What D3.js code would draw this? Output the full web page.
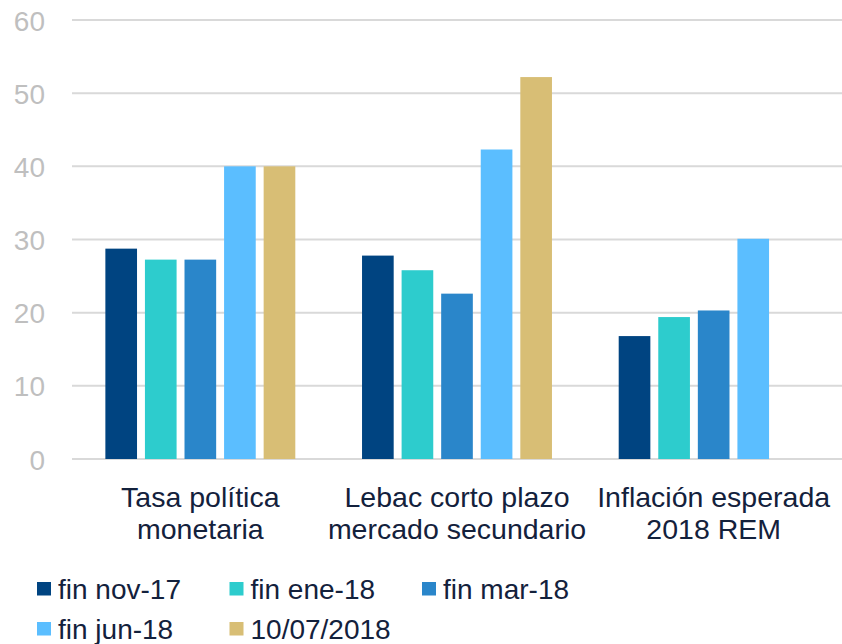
<!DOCTYPE html>
<html>
<head>
<meta charset="utf-8">
<script src="https://cdnjs.cloudflare.com/ajax/libs/d3/7.8.5/d3.min.js"></script>
<style>
  body { margin: 0; background: #fff; }
  text { font-family: "Liberation Sans", Arial, sans-serif; }
</style>
</head>
<body>
<div class="canva"></div>
<script>
const categories = [
  ["Tasa política", "monetaria"],
  ["Lebac corto plazo", "mercado secundario"],
  ["Inflación esperada", "2018 REM"]
];
const seriesNames = ["fin nov-17", "fin ene-18", "fin mar-18", "fin jun-18", "10/07/2018"];
const seriesColors = ["#004481", "#2dcccd", "#2a86ca", "#5bbeff", "#d8be75"];
// values per series, one per category (null = no data)
const finNov17 = [28.75, 27.8, 16.8];
const finEne18 = [27.25, 25.8, 19.4];
const finMar18 = [27.25, 22.6, 20.3];
const finJun18 = [40, 42.3, 30.1];
const jul2018 = [40, 52.2, null];
const yTicks = [0, 10, 20, 30, 40, 50, 60];

const seriesValues = [finNov17, finEne18, finMar18, finJun18, jul2018];

const width = 842, height = 644;
const plotLeft = 72, plotRight = 842, plotTop = 20, plotBottom = 459;

const svg = d3.select(".canva").append("svg")
    .attr("width", width)
    .attr("height", height);

const y = d3.scaleLinear().domain([0, 60]).range([plotBottom, plotTop]);

const x0 = d3.scaleBand()
    .domain(d3.range(categories.length))
    .range([plotLeft, plotRight])
    .paddingInner(0.26)
    .paddingOuter(0.13);

const x1 = d3.scaleBand()
    .domain(d3.range(seriesNames.length))
    .range([0, x0.bandwidth()])
    .paddingInner(0.2);

// gridlines
svg.append("g")
  .selectAll("line")
  .data(yTicks)
  .enter()
  .append("line")
    .attr("x1", plotLeft)
    .attr("x2", plotRight)
    .attr("y1", d => y(d))
    .attr("y2", d => y(d))
    .attr("stroke", "#d9d9d9")
    .attr("stroke-width", 2);

// y tick labels
svg.append("g")
  .selectAll("text")
  .data(yTicks)
  .enter()
  .append("text")
    .attr("x", 45)
    .attr("y", d => y(d) + 10.5)
    .attr("text-anchor", "end")
    .attr("font-size", 28)
    .attr("fill", "#bfbfbf")
    .text(d => d);

// bars
const groups = svg.append("g")
  .selectAll("g")
  .data(categories)
  .enter()
  .append("g")
    .attr("transform", (d, i) => `translate(${x0(i)},0)`);

groups.selectAll("rect")
  .data((d, i) => seriesValues.map((vals, s) => ({ s: s, v: vals[i] })).filter(e => e.v != null))
  .enter()
  .append("rect")
    .attr("x", d => x1(d.s))
    .attr("y", d => y(d.v))
    .attr("width", x1.bandwidth())
    .attr("height", d => y(0) - y(d.v))
    .attr("fill", d => seriesColors[d.s]);

// category labels
const catLabels = svg.append("g")
  .selectAll("text")
  .data(categories)
  .enter()
  .append("text")
    .attr("text-anchor", "middle")
    .attr("font-size", 28.5)
    .attr("fill", "#13213c");

catLabels.selectAll("tspan")
  .data((d, i) => d.map(line => ({ line: line, i: i })))
  .enter()
  .append("tspan")
    .attr("x", d => x0(d.i) + x0.bandwidth() / 2)
    .attr("y", (d, j) => 507 + j * 32)
    .text(d => d.line);

// legend
const legend = svg.append("g")
  .selectAll("g")
  .data(seriesNames)
  .enter()
  .append("g")
    .attr("transform", (d, i) => `translate(${37 + (i % 3) * 192.5},${582 + Math.floor(i / 3) * 40})`);

legend.append("rect")
    .attr("width", 14)
    .attr("height", 13.5)
    .attr("fill", (d, i) => seriesColors[i]);

legend.append("text")
    .attr("x", 21)
    .attr("y", 17)
    .attr("font-size", 28)
    .attr("fill", "#13213c")
    .text(d => d);
</script>
</body>
</html>
